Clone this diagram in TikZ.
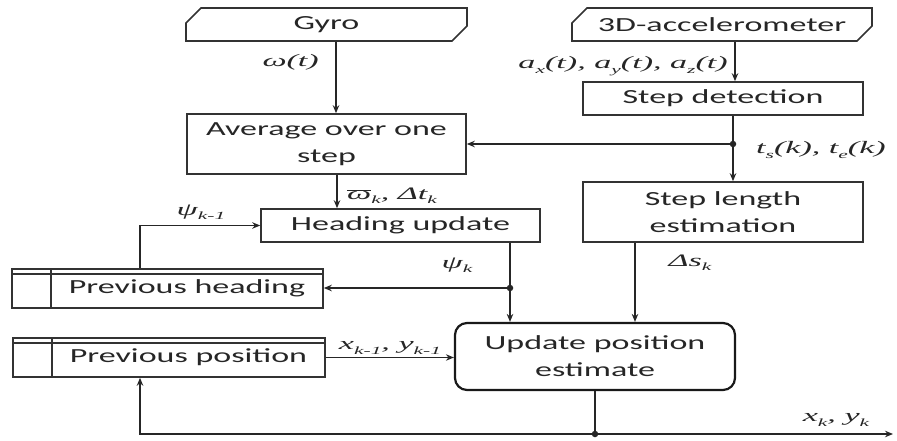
\documentclass[tikz,border=0pt]{standalone}
\usepackage{fontspec}
\setmainfont{Carlito}[FakeStretch=1.7]
\newfontfamily\lblfont{Liberation Serif}[FakeStretch=1.95]
\usetikzlibrary{arrows.meta, shapes.misc}
\newcommand{\sbs}[1]{\raisebox{-0.25em}{\fontsize{11}{11}\selectfont #1}}

\begin{document}
\begin{tikzpicture}[x=1pt, y=-1pt,
    >={Stealth[length=8pt,width=6.5pt]},
    every node/.style={font=\fontsize{20}{27}\selectfont, text=black!85},
    block/.style={draw=black!80, line width=1.6pt, inner sep=0pt, align=center},
    inbox/.style={block, chamfered rectangle, chamfered rectangle corners={north west, south east},
        chamfered rectangle xsep=7pt, chamfered rectangle ysep=8pt},
    store/.style={block, path picture={
        \draw[black!80, line width=1.5pt] ([yshift=-5pt]path picture bounding box.north west) -- ([yshift=-5pt]path picture bounding box.north east);
        \draw[black!80, line width=1.5pt] ([xshift=39pt]path picture bounding box.north west) -- ([xshift=39pt]path picture bounding box.south west);
    }},
    wire/.style={draw=black!85, line width=1.8pt},
    junction/.style={circle, fill=black!85, inner sep=0pt, minimum size=6.5pt},
    lbl/.style={font=\fontsize{17.5}{20}\selectfont\lblfont\itshape, inner sep=0pt}]
    % Definitions
    \def \boxw{280pt}
    \def \lowh{33pt}
    \def \tallh{60pt}
    \useasboundingbox (0,0) rectangle (897,441);
    %%%
    %%% Sensors
    %%%
    \node[inbox, minimum width=281pt, minimum height=\lowh] (gyro) at (326.5,24.5) {Gyro};
    \node[inbox, minimum width=300pt, minimum height=\lowh] (accel) at (722,24.5) {3D-accelerometer};
    %%%
    %%% Processing blocks
    %%%
    \node[block, minimum width=\boxw, minimum height=\lowh] (stepdet) at (723,98.5) {Step detection};
    \node[block, minimum width=279pt, minimum height=\tallh] (avg) at (326.5,144) {Average over one\\ step};
    \node[block, minimum width=\boxw, minimum height=\tallh] (steplen) at (723,212) {Step length\\ estimation};
    \node[block, minimum width=279pt, minimum height=\lowh] (heading) at (400.5,225.5) {Heading update};
    \node[block, draw=black!90, line width=2.2pt, rounded corners=12pt, minimum width=\boxw, minimum height=67pt] (updpos) at (595,356.5) {Update position\\ estimate};
    % Stored values
    \node[store, minimum width=311pt, minimum height=39pt] (prevhead) at (167.5,288.5) {\hspace*{39pt}Previous heading};
    \node[store, minimum width=312pt, minimum height=39pt] (prevpos) at (169,357.5) {\hspace*{39pt}Previous position};
    %%%
    %%% Branch points
    %%%
    \coordinate (tsplit) at (733,144);
    \coordinate (hsplit) at (510,288);
    \coordinate (outsplit) at (595,434);
    \coordinate (outend) at (893,434);
    %%%
    %%% Connections
    %%%
    \draw[wire, ->] ([xshift=9.5pt]gyro.south) -- ([xshift=9.5pt]gyro.south |- avg.north);
    \draw[wire, ->] ([xshift=13pt]accel.south) -- ([xshift=13pt]accel.south |- stepdet.north);
    \draw[wire, ->] ([xshift=10pt]stepdet.south) -- ([xshift=10pt]stepdet.south |- steplen.north);
    \draw[wire, ->] (tsplit) -- (tsplit -| avg.east);
    \draw[wire, ->] ([xshift=10.5pt]avg.south) -- ([xshift=10.5pt]avg.south |- heading.north);
    \draw[wire, ->] ([xshift=109.5pt]heading.south) -- ([xshift=109.5pt]heading.south |- updpos.north);
    \draw[wire, ->] (hsplit) -- (hsplit -| prevhead.east);
    \draw[wire, ->] ([xshift=-27.5pt]prevhead.north) |- (heading.west);
    \draw[wire, ->] ([xshift=-88pt]steplen.south) -- ([xshift=-88pt]steplen.south |- updpos.north);
    \draw[wire, ->] (prevpos.east) -- (prevpos.east -| updpos.west);
    \draw[wire] (updpos.south) -- (outsplit);
    \draw[wire, ->] (outsplit) -- (outend);
    \draw[wire, ->] (outsplit) -| ([xshift=-29pt]prevpos.south);
    % Dots
    \foreach \pt in {tsplit, hsplit, outsplit}
    {
        \node[junction] at (\pt) {};
    }
    %%%
    %%% Signal labels
    %%%
    \node[lbl, anchor=east] (omegalbl) at (319,62) {ω(t)};
    \node[lbl, anchor=east] (acclbl) at (728,66) {a\sbs{x}(t), a\sbs{y}(t), a\sbs{z}(t)};
    \node[lbl, anchor=west] (tlbl) at (756,150) {t\sbs{s}(k), t\sbs{e}(k)};
    \node[lbl, anchor=west] (avglbl) at (347,196) {$\overline{\hbox{ω}}$\sbs{k}, Δt\sbs{k}};
    \node[lbl] (psiprevlbl) at (201,212) {ψ\sbs{k-1}};
    \node[lbl] (psilbl) at (457,265) {ψ\sbs{k}};
    \node[lbl] (dslbl) at (690,263) {Δs\sbs{k}};
    \node[lbl] (prevposlbl) at (390,348) {x\sbs{k-1}, y\sbs{k-1}};
    \node[lbl] (outlbl) at (836,420) {x\sbs{k}, y\sbs{k}};
\end{tikzpicture}
\end{document}
